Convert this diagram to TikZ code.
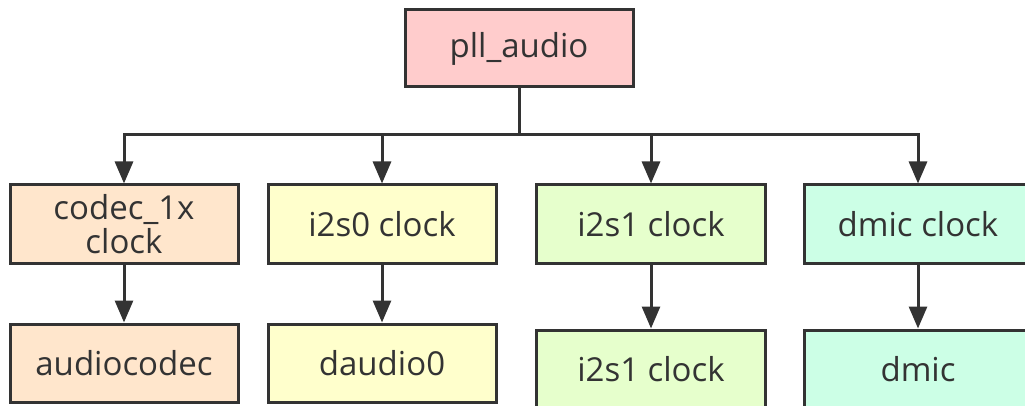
\documentclass[tikz,border=0pt]{standalone}
\usepackage{fontspec}
\setmainfont{Open Sans}
\usetikzlibrary{arrows.meta}
\definecolor{strokec}{HTML}{333333}
\definecolor{pllc}{HTML}{FFCCCC}
\definecolor{codecc}{HTML}{FFE6CC}
\definecolor{itwoszc}{HTML}{FFFFCC}
\definecolor{itwosoc}{HTML}{E6FFCC}
\definecolor{dmicc}{HTML}{CCFFE6}
\tikzset{
  box/.style={draw=strokec, line width=3pt, rectangle, minimum width=228pt, minimum height=78pt,
    inner sep=0pt, text=strokec, font=\fontsize{33}{40}\selectfont, align=center},
  arr/.style={draw=strokec, line width=3pt, -{Triangle[length=22pt,width=18pt]}},
  ln/.style={draw=strokec, line width=3pt},
}
\begin{document}
\begin{tikzpicture}[x=1pt,y=-1pt]
\useasboundingbox (0,0) rectangle (1025,406);
\clip (0,0) rectangle (1025,406);
\node[box, fill=pllc, minimum height=77pt] (pll) at (519,48.5) {pll\_audio};
\node[box, fill=codecc] (codec) at (124,224) {codec\_1x\\[-6pt]clock};
\node[box, fill=itwoszc] (i2s0) at (382,224) {i2s0 clock};
\node[box, fill=itwosoc, minimum width=229pt] (i2s1) at (651,224) {i2s1 clock};
\node[box, fill=dmicc] (dmicclk) at (918,224) {dmic clock};
\node[box, fill=codecc] (acodec) at (124,363) {audiocodec};
\node[box, fill=itwoszc] (daudio) at (382,363) {daudio0};
\node[box, fill=itwosoc, minimum width=229pt] (i2s1b) at (651,369) {i2s1 clock};
\node[box, fill=dmicc] (dmic) at (918,369) {dmic};
\coordinate (bus) at (519,135);
\draw[ln] (pll.south) -- (bus);
\draw[arr] (bus) -| (codec.north);
\draw[arr] (bus) -| (i2s0.north);
\draw[arr] (bus) -| (i2s1.north);
\draw[arr] (bus) -| (dmicclk.north);
\draw[arr] (codec.south) -- (acodec.north);
\draw[arr] (i2s0.south) -- (daudio.north);
\draw[arr] (i2s1.south) -- (i2s1b.north);
\draw[arr] (dmicclk.south) -- (dmic.north);
\end{tikzpicture}
\end{document}
